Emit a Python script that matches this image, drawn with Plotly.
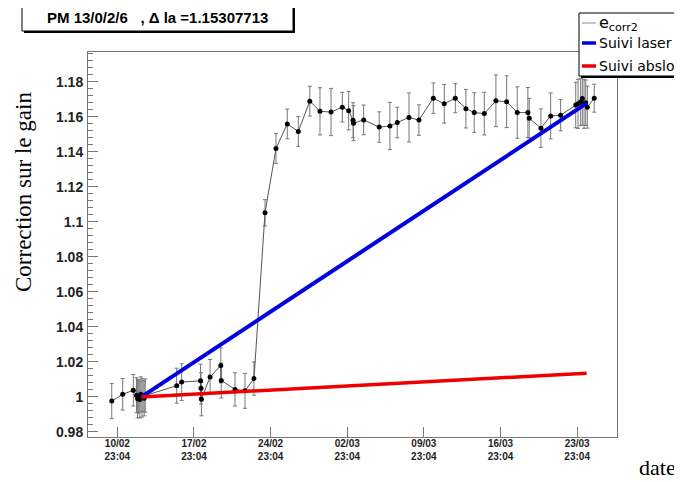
import pandas as pd
import plotly.graph_objects as go

start_date = pd.Timestamp("2012-02-10 23:04")

# e_corr2 measurements: day offsets from start_date, values, errors
days = [-0.51, 0.49, 1.46, 1.75, 1.85, 1.95, 2.05, 2.15, 2.25, 2.35, 2.45, 2.55,
        5.42, 5.88, 7.60, 7.64, 7.68, 8.47, 9.45, 9.49, 10.75, 11.66, 12.48,
        13.49, 14.49, 15.52, 16.53, 17.58, 18.51, 19.52, 20.55, 21.13, 21.53,
        21.57, 22.50, 23.92, 24.90, 25.57, 26.64, 27.55, 28.86, 29.86, 30.87,
        31.84, 32.60, 33.52, 34.58, 35.56, 36.53, 37.50, 37.62, 38.69, 39.58,
        40.49, 41.87, 42.08, 42.32, 42.47, 42.63, 42.78, 42.93, 43.56]
values = [0.9976, 1.0015, 1.0038, 1.0010, 0.9990, 1.0002, 0.9985, 1.0015, 0.9995,
          1.0005, 0.9992, 1.0008, 1.0064, 1.0085, 1.0092, 1.0049, 0.9987, 1.0114,
          1.0180, 1.0094, 1.0043, 1.0035, 1.0105, 1.1052, 1.1420, 1.1560, 1.1517,
          1.1690, 1.1632, 1.1628, 1.1656, 1.1636, 1.1581, 1.1564, 1.1583, 1.1542,
          1.1548, 1.1568, 1.1597, 1.1582, 1.1707, 1.1675, 1.1707, 1.1647, 1.1625,
          1.1619, 1.1692, 1.1687, 1.1625, 1.1625, 1.1593, 1.1536, 1.1606, 1.1610,
          1.1668, 1.1675, 1.1685, 1.1705, 1.1675, 1.1681, 1.1656, 1.1707]
errors = [0.0100, 0.0090, 0.0090, 0.0100, 0.0110, 0.0095, 0.0105, 0.0100, 0.0110,
          0.0090, 0.0100, 0.0095, 0.0100, 0.0105, 0.0095, 0.0090, 0.0095, 0.0100,
          0.0100, 0.0100, 0.0095, 0.0100, 0.0095, 0.0075, 0.0085, 0.0085, 0.0085,
          0.0085, 0.0135, 0.0135, 0.0085, 0.0110, 0.0100, 0.0100, 0.0085, 0.0087,
          0.0135, 0.0087, 0.0140, 0.0087, 0.0087, 0.0110, 0.0083, 0.0110, 0.0113,
          0.0122, 0.0148, 0.0148, 0.0147, 0.0143, 0.0113, 0.0110, 0.0131, 0.0089,
          0.0130, 0.0140, 0.0135, 0.0150, 0.0140, 0.0130, 0.0120, 0.0080]

# Fitted follow-up lines
laser_days = [2.2, 42.85]
laser_values = [1.0, 1.1677]
absolu_days = [2.2, 42.86]
absolu_values = [1.0, 1.0135]

# Axis ticks
tick_days = [0, 7, 14, 21, 28, 35, 42]
tick_labels = ["10/02<br>23:04", "17/02<br>23:04", "24/02<br>23:04", "02/03<br>23:04",
               "09/03<br>23:04", "16/03<br>23:04", "23/03<br>23:04"]
x_range_days = [-2.68, 45.64]
y_range = [0.9771, 1.1971]

title_text = "PM 13/0/2/6\u00a0\u00a0\u00a0, \u0394 la =1.15307713"
legend_names = ["e<sub>corr2</sub>", "Suivi laser", "Suivi abslolu"]
legend_colors = ["#888888", "#0000e0", "#ee0000"]
legend_widths = [1, 3.5, 3.5]


def to_dates(d):
    return [start_date + pd.Timedelta(days=v) for v in d]


fig = go.Figure()

fig.add_trace(go.Scatter(
    x=to_dates(days), y=values, mode="lines+markers", name=legend_names[0],
    line=dict(color="#555555", width=1),
    marker=dict(color="black", size=5),
    error_y=dict(type="data", array=errors, color="#777777", thickness=1, width=2),
    showlegend=False,
))
fig.add_trace(go.Scatter(
    x=to_dates(laser_days), y=laser_values, mode="lines", name=legend_names[1],
    line=dict(color=legend_colors[1], width=4), showlegend=False,
))
fig.add_trace(go.Scatter(
    x=to_dates(absolu_days), y=absolu_values, mode="lines", name=legend_names[2],
    line=dict(color=legend_colors[2], width=3.5), showlegend=False,
))

OFF = 8  # default page body margin
W, H = 682 - OFF, 482 - OFF
# plot frame in window pixels: x 88..617, y 52..437
L, R, T, B = 88 - OFF, 682 - 617, 52 - OFF, 482 - 437
pw, ph = W - L - R, H - T - B


def px_x(p):
    return (p - OFF - L) / pw


def px_y(p):
    return (437 - p) / ph


fig.update_layout(
    width=W, height=H,
    margin=dict(l=L, r=R, t=T, b=B, autoexpand=False),
    paper_bgcolor="white", plot_bgcolor="white",
    font=dict(family="Liberation Sans, Arial, sans-serif", color="black"),
    xaxis=dict(
        range=to_dates(x_range_days), tickvals=to_dates(tick_days), ticktext=tick_labels,
        ticks="inside", ticklen=10, tickcolor="#777777",
        showline=True, linecolor="#777777", linewidth=1, mirror=True,
        showgrid=False, zeroline=False,
        tickfont=dict(size=10, weight="bold", color="#222222"),
        ticklabelstandoff=-3,
    ),
    yaxis=dict(
        range=y_range, tick0=0.98, dtick=0.02, tickformat="~g",
        ticks="inside", ticklen=10, tickcolor="#777777",
        minor=dict(ticks="inside", ticklen=5, dtick=0.004, tick0=0.98, tickcolor="#777777"),
        showline=True, linecolor="#777777", linewidth=1, mirror=True,
        showgrid=False, zeroline=False,
        tickfont=dict(size=14, weight="bold", color="#222222"),
        ticklabelstandoff=1,
    ),
    showlegend=False,
)

# Title box with shadow
fig.add_shape(type="rect", xref="paper", yref="paper",
              x0=px_x(24), x1=px_x(295), y0=px_y(33), y1=px_y(7),
              fillcolor="black", line=dict(width=0), layer="above")
fig.add_shape(type="rect", xref="paper", yref="paper",
              x0=px_x(22), x1=px_x(293), y0=px_y(31), y1=px_y(5),
              fillcolor="white", line=dict(color="black", width=1), layer="above")
fig.add_annotation(xref="paper", yref="paper", x=px_x(157), y=px_y(18),
                   text=title_text, showarrow=False, xanchor="center", yanchor="middle",
                   font=dict(family="Liberation Sans, Arial, sans-serif",
                             size=15, weight="bold", color="black"))

# Legend box (ROOT style, with shadow)
fig.add_shape(type="rect", xref="paper", yref="paper",
              x0=px_x(581), x1=px_x(700), y0=px_y(78), y1=px_y(15),
              fillcolor="black", line=dict(width=0), layer="above")
fig.add_shape(type="rect", xref="paper", yref="paper",
              x0=px_x(579), x1=px_x(698), y0=px_y(76), y1=px_y(13),
              fillcolor="white", line=dict(color="black", width=1), layer="above")
legend_rows = [23, 43, 66]
for name, color, lw, row in zip(legend_names, legend_colors, legend_widths, legend_rows):
    fig.add_shape(type="line", xref="paper", yref="paper",
                  x0=px_x(582), x1=px_x(596), y0=px_y(row), y1=px_y(row),
                  line=dict(color=color, width=lw), layer="above")
    fig.add_annotation(xref="paper", yref="paper", x=px_x(597), y=px_y(row),
                       text=name, showarrow=False, xanchor="left", yanchor="middle",
                       font=dict(family="DejaVu Sans, sans-serif",
                                 size=16 if "sub" in name else 14, color="black"))

# Axis titles
fig.add_annotation(xref="paper", yref="paper", x=px_x(23), y=px_y(192),
                   text="Correction sur le gain", textangle=-90, showarrow=False,
                   xanchor="center", yanchor="middle",
                   font=dict(family="Liberation Serif, Times New Roman, serif", size=23, color="black"))
fig.add_annotation(xref="paper", yref="paper", x=px_x(657), y=px_y(467),
                   text="date", showarrow=False, xanchor="center", yanchor="middle",
                   font=dict(family="Liberation Serif, Times New Roman, serif", size=22, color="black"))

fig.write_html("out.html")
